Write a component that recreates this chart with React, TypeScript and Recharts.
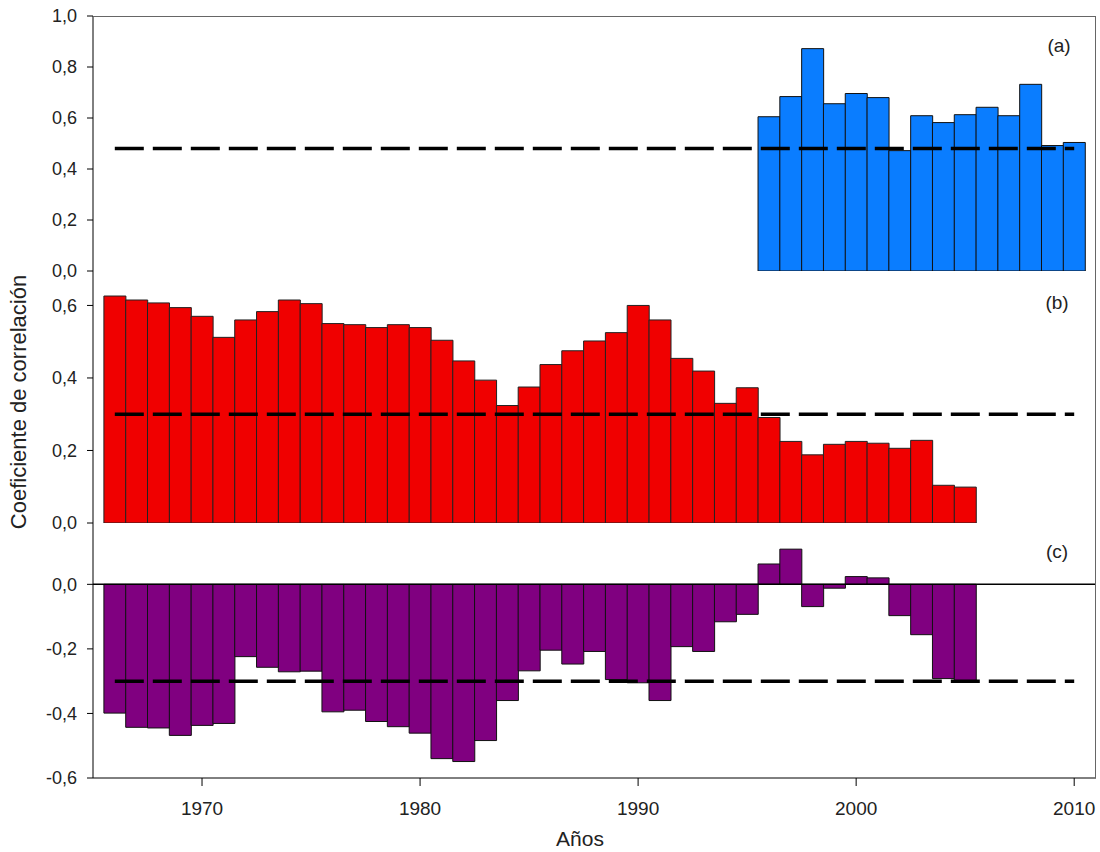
import { BarChart, Bar, XAxis, YAxis, ReferenceLine } from "recharts"

// Panel (a): 1996-2010
const yearsA = [1996, 1997, 1998, 1999, 2000, 2001, 2002, 2003, 2004, 2005, 2006, 2007, 2008, 2009, 2010]
const valuesA = [0.605, 0.684, 0.872, 0.656, 0.696, 0.68, 0.472, 0.609, 0.582, 0.613, 0.642, 0.609, 0.732, 0.492, 0.504]

// Panels (b) and (c): 1966-2005
const yearsBC = [
  1966, 1967, 1968, 1969, 1970, 1971, 1972, 1973, 1974, 1975,
  1976, 1977, 1978, 1979, 1980, 1981, 1982, 1983, 1984, 1985,
  1986, 1987, 1988, 1989, 1990, 1991, 1992, 1993, 1994, 1995,
  1996, 1997, 1998, 1999, 2000, 2001, 2002, 2003, 2004, 2005,
]
const valuesB = [
  0.626, 0.615, 0.607, 0.594, 0.57, 0.512, 0.56, 0.583, 0.615, 0.605,
  0.55, 0.547, 0.539, 0.547, 0.539, 0.504, 0.447, 0.394, 0.324, 0.375,
  0.437, 0.475, 0.502, 0.525, 0.6, 0.56, 0.454, 0.419, 0.33, 0.373,
  0.291, 0.225, 0.188, 0.217, 0.225, 0.22, 0.206, 0.228, 0.104, 0.099,
]
const valuesC = [
  -0.399, -0.443, -0.445, -0.468, -0.437, -0.431, -0.224, -0.257, -0.271, -0.269,
  -0.395, -0.39, -0.425, -0.441, -0.461, -0.54, -0.549, -0.484, -0.36, -0.268,
  -0.204, -0.247, -0.208, -0.295, -0.305, -0.36, -0.193, -0.208, -0.116, -0.093,
  0.063, 0.109, -0.069, -0.012, 0.024, 0.02, -0.097, -0.156, -0.292, -0.3,
]

// significance thresholds (dashed lines)
const thresholdA = 0.48
const thresholdB = 0.3
const thresholdC = -0.3
const lineStart = 1966
const lineEnd = 2010

const yearTicks = [1970, 1980, 1990, 2000, 2010]
const ticksA = [0, 0.2, 0.4, 0.6, 0.8, 1]
const ticksB = [0, 0.2, 0.4, 0.6]
const ticksC = [-0.6, -0.4, -0.2, 0]

const dataA = yearsA.map((year, i) => ({ year, value: valuesA[i] }))
const dataB = yearsBC.map((year, i) => ({ year, value: valuesB[i] }))
const dataC = yearsBC.map((year, i) => ({ year, value: valuesC[i] }))

const FONT = "'Liberation Sans', Arial, sans-serif"
const yTickStyle = { fontSize: 18, fill: "#222", fontFamily: FONT }
const xTickStyle = { fontSize: 19, fill: "#222", fontFamily: FONT }
const fmt = (v: number) => v.toFixed(1).replace(".", ",")

const W = 1100
const X_DOMAIN: [number, number] = [1965, 2011]

function dashed(y: number) {
  return (
    <ReferenceLine
      segment={[{ x: lineStart, y }, { x: lineEnd, y }]}
      stroke="#000"
      strokeWidth={3.5}
      strokeDasharray="29 9"
    />
  )
}

function yAxis(domain: [number, number], ticks: number[]) {
  return (
    <YAxis
      type="number"
      domain={domain}
      ticks={ticks}
      width={93}
      tickFormatter={fmt}
      tick={yTickStyle}
      tickSize={6}
      tickMargin={10}
      stroke="#000"
      interval={0}
      allowDataOverflow
    />
  )
}

const label = (text: string, x: number, y: number) => (
  <div
    style={{
      position: "absolute",
      left: x - 20,
      top: y - 12,
      width: 40,
      textAlign: "center",
      fontSize: 19,
      lineHeight: "24px",
      color: "#222",
      fontFamily: FONT,
    }}
  >
    {text}
  </div>
)

export default function App() {
  return (
    <div style={{ position: "absolute", left: 0, top: 0, width: W, height: 852, background: "#fff", fontFamily: FONT }}>
      {/* (a) */}
      <div style={{ position: "absolute", left: 0, top: 0 }}>
        <BarChart width={W} height={281} data={dataA} margin={{ top: 16, right: 4, bottom: 10, left: 0 }} barCategoryGap={0} barGap={0}>
          <XAxis type="number" dataKey="year" domain={X_DOMAIN} ticks={yearTicks} height={0} tick={false} tickLine={false} stroke="#666" />
          {yAxis([0, 1], ticksA)}
          <Bar dataKey="value" fill="#0a7dff" stroke="#111" strokeWidth={1} isAnimationActive={false} />
          {dashed(thresholdA)}
        </BarChart>
      </div>
      {/* (b) */}
      <div style={{ position: "absolute", left: 0, top: 261 }}>
        <BarChart width={W} height={272} data={dataB} margin={{ top: 10, right: 4, bottom: 10, left: 0 }} barCategoryGap={0} barGap={0}>
          <XAxis type="number" dataKey="year" domain={X_DOMAIN} ticks={yearTicks} height={0} tick={false} tickLine={false} stroke="#000" />
          {yAxis([0, 0.695], ticksB)}
          <Bar dataKey="value" fill="#f00000" stroke="#222" strokeWidth={1} isAnimationActive={false} />
          {dashed(thresholdB)}
        </BarChart>
      </div>
      {/* (c) */}
      <div style={{ position: "absolute", left: 0, top: 513 }}>
        <BarChart width={W} height={339} data={dataC} margin={{ top: 10, right: 4, bottom: 34, left: 0 }} barCategoryGap={0} barGap={0}>
          <XAxis
            type="number"
            dataKey="year"
            domain={X_DOMAIN}
            ticks={yearTicks}
            height={40}
            tick={xTickStyle}
            tickSize={8}
            tickMargin={16}
            stroke="#000"
            interval={0}
          />
          {yAxis([-0.6, 0.19], ticksC)}
          <ReferenceLine y={0} stroke="#000" strokeWidth={1.5} />
          <Bar dataKey="value" fill="#800080" stroke="#111" strokeWidth={1} isAnimationActive={false} />
          {dashed(thresholdC)}
        </BarChart>
      </div>

      {/* frame */}
      <div
        style={{
          position: "absolute",
          left: 93,
          top: 16,
          width: 1003,
          height: 762,
          borderTop: "1.5px solid #666",
          borderRight: "1.5px solid #666",
          boxSizing: "border-box",
          pointerEvents: "none",
        }}
      />

      {label("(a)", 1059, 46)}
      {label("(b)", 1057, 303)}
      {label("(c)", 1057, 552)}

      <div
        style={{
          position: "absolute",
          left: 19 - 160,
          top: 402 - 14,
          width: 320,
          height: 28,
          lineHeight: "28px",
          textAlign: "center",
          fontSize: 22,
          color: "#222",
          transform: "rotate(-90deg)",
          whiteSpace: "nowrap",
        }}
      >
        Coeficiente de correlación
      </div>
      <div
        style={{
          position: "absolute",
          left: 580 - 50,
          top: 839 - 15,
          width: 100,
          lineHeight: "30px",
          textAlign: "center",
          fontSize: 21,
          color: "#222",
        }}
      >
        Años
      </div>
    </div>
  )
}
